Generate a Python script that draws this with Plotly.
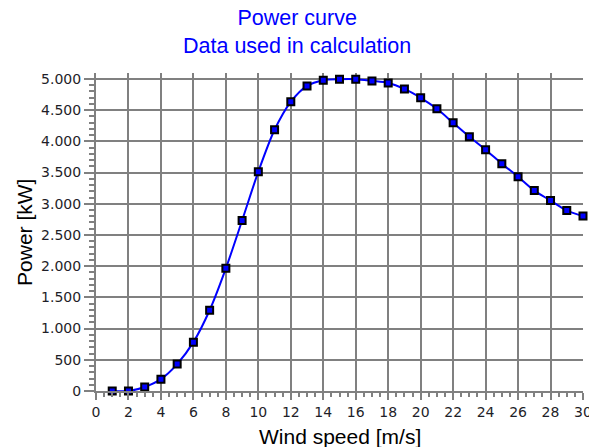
import plotly.graph_objects as go

wind_speed = list(range(1, 31))
power_kw = [0, 0, 64, 190, 431, 783, 1294, 1965, 2732, 3514,
            4185, 4633, 4888, 4980, 4995, 4995, 4968, 4936, 4840, 4697,
            4521, 4297, 4073, 3866, 3642, 3434, 3211, 3051, 2891, 2805]

x_ticks = list(range(0, 31, 2))
y_ticks = list(range(0, 5001, 500))

GRID = "#808080"
TXT = "#1e1e28"
TITLE_FONT = "Liberation Sans, Arial"

fig = go.Figure()
fig.add_trace(go.Scatter(
    x=wind_speed, y=power_kw, mode="lines",
    line=dict(color="#0000ff", width=2, shape="spline", smoothing=0.8),
    hoverinfo="skip", showlegend=False))
fig.add_trace(go.Scatter(
    x=wind_speed, y=power_kw, mode="markers", cliponaxis=False,
    marker=dict(symbol="square", size=7, color="#0000ff",
                line=dict(color="#000000", width=2)),
    showlegend=False))

fig.update_layout(
    width=589, height=447,
    margin=dict(l=96, r=6, t=73, b=56, autoexpand=False),
    paper_bgcolor="white", plot_bgcolor="white",
    font=dict(family="DejaVu Sans", color=TXT),
    annotations=[
        dict(text="Power curve<br>Data used in calculation",
             xref="paper", yref="paper", x=0.413, y=1.13,
             xanchor="center", yanchor="middle", showarrow=False,
             font=dict(family=TITLE_FONT, size=21.5, color="#0000ff")),
        dict(text="Wind speed [m/s]",
             xref="paper", yref="paper", x=0.5, y=-0.142,
             xanchor="center", yanchor="middle", showarrow=False,
             font=dict(family=TITLE_FONT, size=21, color="#000000")),
        dict(text="Power [kW]", textangle=-90,
             xref="paper", yref="paper", x=-0.148, y=0.5,
             xanchor="center", yanchor="middle", showarrow=False,
             font=dict(family=TITLE_FONT, size=21, color="#000000")),
    ],
)
fig.update_xaxes(
    automargin=False, ticklabeloverflow="allow",
    range=[0, 30], tickmode="array", tickvals=x_ticks,
    ticktext=[str(v) for v in x_ticks],
    showgrid=True, gridcolor=GRID, gridwidth=2,
    showline=True, linecolor=GRID, linewidth=2,
    ticks="outside", ticklen=7, tickwidth=2, tickcolor=GRID,
    minor=dict(dtick=0.5, ticks="outside", ticklen=4, tickwidth=1.5, tickcolor=GRID, showgrid=False),
    tickfont=dict(family="DejaVu Sans", size=14, color=TXT),
    zeroline=False,
)
fig.update_yaxes(
    automargin=False, ticklabeloverflow="allow",
    range=[0, 5095], tickmode="array", tickvals=y_ticks,
    ticktext=[f"{v:,}".replace(",", ".") for v in y_ticks],
    showgrid=True, gridcolor=GRID, gridwidth=2,
    showline=True, linecolor=GRID, linewidth=2,
    ticks="outside", ticklen=10, tickwidth=2, tickcolor=GRID,
    minor=dict(dtick=100, ticks="outside", ticklen=5, tickwidth=1.5, tickcolor=GRID, showgrid=False),
    tickfont=dict(family="DejaVu Sans", size=14, color=TXT),
    zeroline=False,
)

fig.write_html("out.html", config={"displayModeBar": False},
               post_script="document.body.style.margin='0';document.body.style.overflow='hidden';")
